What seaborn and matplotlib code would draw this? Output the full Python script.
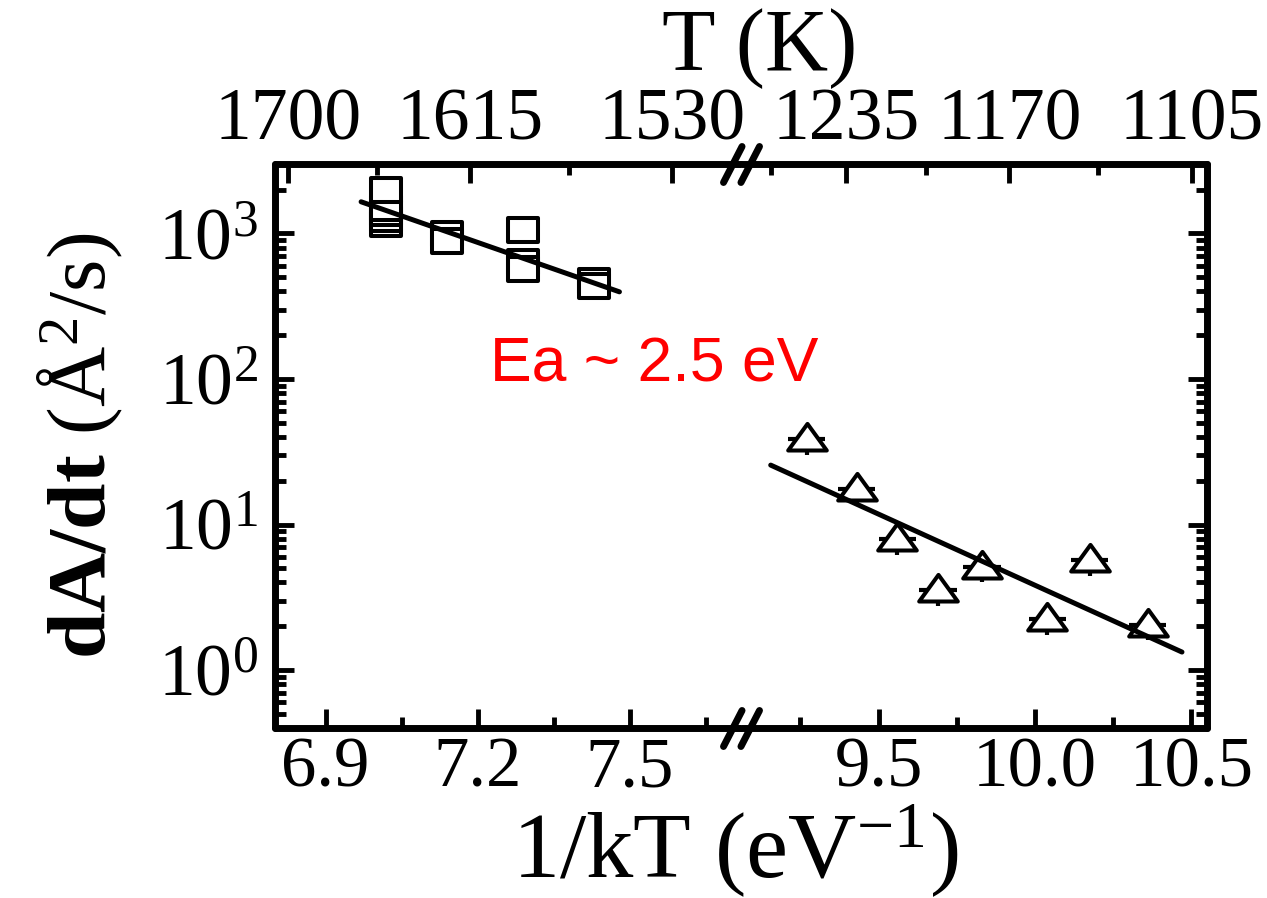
import numpy as np
import matplotlib
matplotlib.use("Agg")
import matplotlib.pyplot as plt
import seaborn as sns
from matplotlib.path import Path
from matplotlib.markers import MarkerStyle
from matplotlib.ticker import FixedLocator, FormatStrFormatter, LogLocator, NullFormatter

# ---- data -----------------------------------------------------------------
# high-temperature growth rates (open squares), in acquisition order
sq_inv_kT = [7.02, 7.02, 7.02, 7.02, 7.02, 7.14, 7.14, 7.29, 7.29, 7.29, 7.43, 7.43]
sq_rate = [1160, 1255, 1380, 1500, 2000, 990, 887, 1055, 636, 569, 471, 435]

# low-temperature growth rates (open triangles) with their error bars
tri_inv_kT = [9.27, 9.43, 9.56, 9.69, 9.83, 10.04, 10.175, 10.36]
tri_rate = [38.5, 17.6, 7.9, 3.55, 5.1, 2.24, 5.68, 2.05]
tri_xerr = [0.06, 0.06, 0.06, 0.06, 0.06, 0.06, 0.06, 0.06]
tri_yerr = [8.5, 3.9, 1.7, 0.8, 1.1, 0.5, 1.25, 0.45]

# Arrhenius fit lines
fit_hi_x = [6.97, 7.48]
fit_hi_y = [1650, 397]
fit_lo_x = [9.155, 10.47]
fit_lo_y = [25.6, 1.33]

# axis ranges and ticks
left_xlim = (6.8, 7.72)
right_xlim = (9.06, 10.55)
left_major = [6.9, 7.2, 7.5]
left_minor = [7.05, 7.35, 7.65]
right_major = [9.5, 10.0, 10.5]
right_minor = [9.25, 9.75, 10.25]
T_left_major = [1700, 1615, 1530]
T_left_minor = [1657.5, 1572.5]
T_right_major = [1235, 1170, 1105]
T_right_minor = [1267.5, 1202.5, 1137.5]
rate_lim = (0.4, 3000)

K_B = 8.617333e-5  # Boltzmann constant, eV/K

# ---- style ----------------------------------------------------------------
sns.set_theme(style="ticks")
plt.rcParams.update({
    "font.family": ["Liberation Serif", "DejaVu Serif"],
    "mathtext.fontset": "custom",
    "mathtext.rm": "Liberation Serif",
    "mathtext.it": "Liberation Serif:italic",
    "mathtext.bf": "Liberation Serif:bold",
    "axes.linewidth": 5,
    "axes.edgecolor": "black",
    "xtick.color": "black",
    "ytick.color": "black",
    "text.color": "black",
    "axes.labelcolor": "black",
})

W, H = 1267, 898
fig = plt.figure(figsize=(W / 100, H / 100), dpi=100)


def px_box(x0, y0, x1, y1):
    return [x0 / W, 1 - y1 / H, (x1 - x0) / W, (y1 - y0) / H]


ax_l = fig.add_axes(px_box(275, 164, 741, 728))
ax_r = fig.add_axes(px_box(741, 164, 1207, 728), sharey=ax_l)
ax_l.set_yscale("log")
ax_l.set_ylim(*rate_lim)
ax_l.set_xlim(*left_xlim)
ax_r.set_xlim(*right_xlim)

# ---- markers ----------------------------------------------------------------
# slightly wide open square and a flattened triangle, both white-filled
sq_path = Path([(-15.5, -12), (15.5, -12), (15.5, 12), (-15.5, 12), (-15.5, -12)],
               [Path.MOVETO, Path.LINETO, Path.LINETO, Path.LINETO, Path.CLOSEPOLY])
tri_path = Path([(0, 15.6), (-19.3, -11.0), (19.3, -11.0), (0, 15.6)],
                [Path.MOVETO, Path.LINETO, Path.LINETO, Path.CLOSEPOLY])

sns.scatterplot(x=sq_inv_kT, y=sq_rate, ax=ax_l, marker=MarkerStyle(sq_path),
                s=22.3 ** 2, facecolor="white", edgecolor="black",
                linewidth=2.9, zorder=3)
sns.lineplot(x=fit_hi_x, y=fit_hi_y, ax=ax_l, color="black", linewidth=3.6,
             solid_capstyle="round", zorder=4)

ax_r.errorbar(tri_inv_kT, tri_rate, xerr=tri_xerr, yerr=tri_yerr, fmt="none",
              ecolor="black", elinewidth=3.0, capsize=0, zorder=2)
sns.scatterplot(x=tri_inv_kT, y=tri_rate, ax=ax_r, marker=MarkerStyle(tri_path),
                s=27.8 ** 2, facecolor="white", edgecolor="black",
                linewidth=2.9, zorder=3)
sns.lineplot(x=fit_lo_x, y=fit_lo_y, ax=ax_r, color="black", linewidth=3.6,
             solid_capstyle="round", zorder=4)

# ---- axes ---------------------------------------------------------------------
for ax in (ax_l, ax_r):
    ax.set_xlabel("")
    ax.set_ylabel("")
    ax.tick_params(which="both", direction="in", width=3.5, labelsize=51,
                   colors="black")
    ax.tick_params(which="major", length=14)
    ax.tick_params(which="minor", length=8)
    ax.tick_params(axis="x", which="both", bottom=True, top=False, pad=6)
    for sp in ax.spines.values():
        sp.set_linewidth(5)
        sp.set_capstyle("round")
    ax.set_facecolor("white")

ax_l.xaxis.set_major_locator(FixedLocator(left_major))
ax_l.xaxis.set_minor_locator(FixedLocator(left_minor))
ax_r.xaxis.set_major_locator(FixedLocator(right_major))
ax_r.xaxis.set_minor_locator(FixedLocator(right_minor))
for ax in (ax_l, ax_r):
    ax.xaxis.set_major_formatter(FormatStrFormatter("%.1f"))

ax_l.yaxis.set_major_locator(LogLocator(base=10, numticks=12))
ax_l.yaxis.set_minor_locator(LogLocator(base=10, subs=np.arange(2, 10), numticks=12))
ax_l.yaxis.set_minor_formatter(NullFormatter())
ax_l.tick_params(axis="y", which="both", left=True, right=False, pad=12,
                 labelsize=53)
ax_r.tick_params(axis="y", which="both", left=False, right=True,
                 labelleft=False, labelright=False)
ax_l.spines["right"].set_visible(False)
ax_r.spines["left"].set_visible(False)


def inv_kT_to_T(x):
    x = np.asarray(x, dtype=float)
    with np.errstate(divide="ignore"):
        return 1.0 / (K_B * x)


for ax, major, minor in ((ax_l, T_left_major, T_left_minor),
                         (ax_r, T_right_major, T_right_minor)):
    sec = ax.secondary_xaxis("top", functions=(inv_kT_to_T, inv_kT_to_T))
    sec.set_xticks(major)
    sec.set_xticks(minor, minor=True)
    sec.xaxis.set_major_formatter(FormatStrFormatter("%d"))
    sec.tick_params(which="both", direction="in", width=3.5, labelsize=53,
                    pad=6, colors="black")
    sec.tick_params(which="major", length=14)
    sec.tick_params(which="minor", length=8)
    sec.spines["top"].set_visible(False)

# axis-break marks on the top and bottom frame
slash_path = Path([(-16.5, -16.5), (0.5, 16.5), (-0.5, -16.5), (16.5, 16.5)],
                  [Path.MOVETO, Path.LINETO, Path.MOVETO, Path.LINETO])
slash_marker = MarkerStyle(slash_path, capstyle="round")
for yy in (0, 1):
    ax_r.plot([0], [yy], transform=ax_r.transAxes, marker=slash_marker,
              ms=36 * 0.72, mew=5, mec="black", mfc="none", ls="none",
              clip_on=False, zorder=10)

# ---- labels -------------------------------------------------------------------
ax_l.set_ylabel(r"$\mathbf{dA/dt}$ (Å$^{2}$/s)", fontsize=60)
ax_l.yaxis.set_label_coords((125 - 275) / 466, 0.5)
fig.text(735 / W, 1 - 878 / H, r"1/kT (eV$^{-1}$)", ha="center",
         va="baseline", fontsize=68)
fig.text(760 / W, 1 - 70 / H, "T (K)", ha="center", va="baseline", fontsize=63)
fig.text(490 / W, 1 - 381 / H, "Ea ~ 2.5 eV", color="#ff0000",
         family=["Liberation Sans", "DejaVu Sans"], fontsize=45,
         ha="left", va="baseline")

fig.savefig("out.png", dpi=100, facecolor="white")
